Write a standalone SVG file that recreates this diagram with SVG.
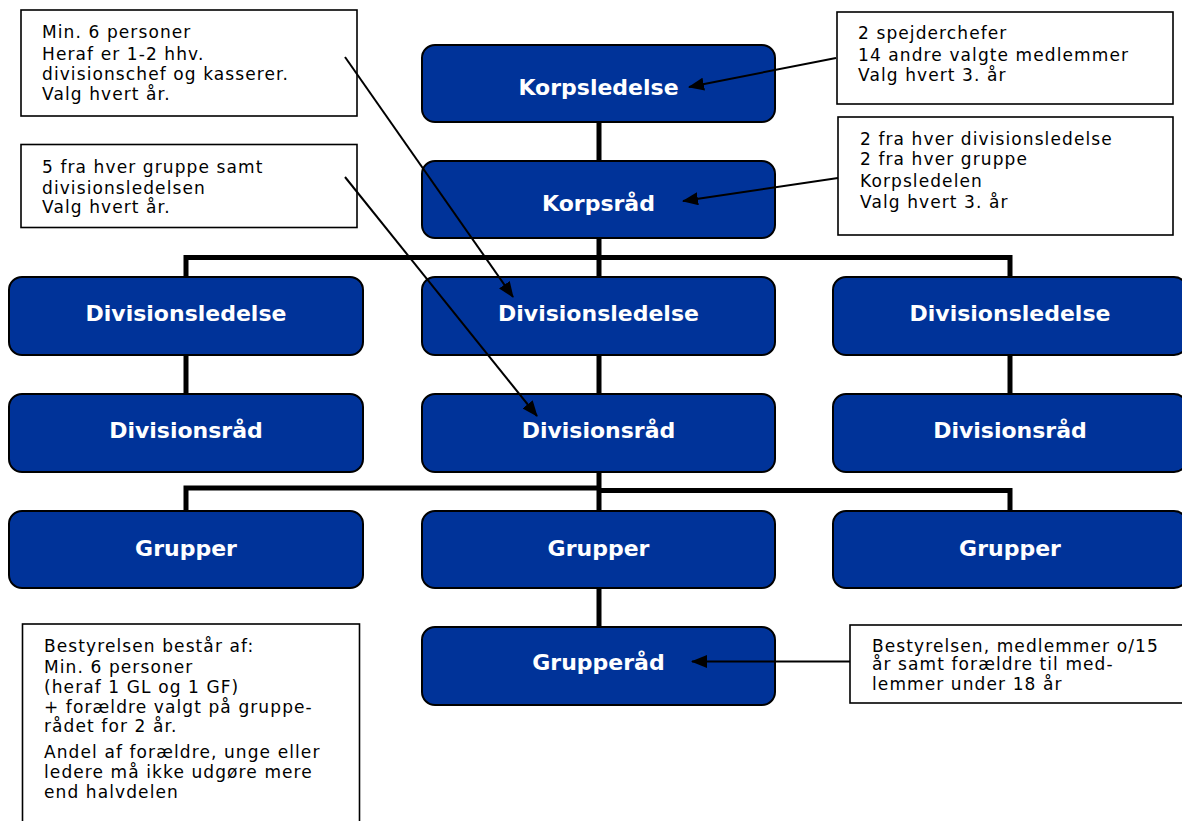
<svg xmlns="http://www.w3.org/2000/svg" width="1182" height="821" viewBox="0 0 1182 821">
<style>
.node{fill:#003399;stroke:#000;stroke-width:2}
.lbl{fill:#fff;font-family:"DejaVu Sans",sans-serif;font-weight:bold;font-size:22px;text-anchor:middle}
.note{fill:#fff;stroke:#000;stroke-width:1.6}
.nt{fill:#000;font-family:"DejaVu Sans",sans-serif;font-size:17px;letter-spacing:1.1px}
.conn{fill:none;stroke:#000;stroke-width:5}
.arr{fill:none;stroke:#000;stroke-width:2;marker-end:url(#ah)}
</style>
<defs>
<marker id="ah" markerUnits="userSpaceOnUse" markerWidth="17" markerHeight="13" refX="15" refY="6.5" orient="auto">
<path d="M0,0 L16,6.5 L0,13 Z" fill="#000"/>
</marker>
</defs>
<rect width="1182" height="821" fill="#fff"/>
<g id="connectors">
<path class="conn" d="M599 122 V627"/>
<path class="conn" d="M186 277 V257.5 H1010 V277"/>
<path class="conn" d="M186 355 V394"/>
<path class="conn" d="M1010 355 V394"/>
<path class="conn" d="M599 488 H186 V511"/>
<path class="conn" d="M599 490.5 H1010 V511"/>
</g>
<g id="korpsledelse"><rect class="node" x="422" y="45" width="353" height="77" rx="13"/><text class="lbl" x="598.5" y="95">Korpsledelse</text></g>
<g id="korpsraad"><rect class="node" x="422" y="161" width="353" height="77" rx="13"/><text class="lbl" x="598.5" y="211">Korpsråd</text></g>
<g id="divisionsledelse-1"><rect class="node" x="9" y="277" width="354" height="78" rx="13"/><text class="lbl" x="186" y="321">Divisionsledelse</text></g>
<g id="divisionsledelse-2"><rect class="node" x="422" y="277" width="353" height="78" rx="13"/><text class="lbl" x="598.5" y="321">Divisionsledelse</text></g>
<g id="divisionsledelse-3"><rect class="node" x="833" y="277" width="354" height="78" rx="13"/><text class="lbl" x="1010" y="321">Divisionsledelse</text></g>
<g id="divisionsraad-1"><rect class="node" x="9" y="394" width="354" height="78" rx="13"/><text class="lbl" x="186" y="438">Divisionsråd</text></g>
<g id="divisionsraad-2"><rect class="node" x="422" y="394" width="353" height="78" rx="13"/><text class="lbl" x="598.5" y="438">Divisionsråd</text></g>
<g id="divisionsraad-3"><rect class="node" x="833" y="394" width="354" height="78" rx="13"/><text class="lbl" x="1010" y="438">Divisionsråd</text></g>
<g id="grupper-1"><rect class="node" x="9" y="511" width="354" height="77" rx="13"/><text class="lbl" x="186" y="556">Grupper</text></g>
<g id="grupper-2"><rect class="node" x="422" y="511" width="353" height="77" rx="13"/><text class="lbl" x="598.5" y="556">Grupper</text></g>
<g id="grupper-3"><rect class="node" x="833" y="511" width="354" height="77" rx="13"/><text class="lbl" x="1010" y="556">Grupper</text></g>
<g id="grupperaad"><rect class="node" x="422" y="627" width="353" height="78" rx="13"/><text class="lbl" x="598.5" y="670">Grupperåd</text></g>
<g id="note-divisionsledelse"><rect class="note" x="21" y="10" width="336" height="106"/>
<text class="nt"><tspan x="42" y="38">Min. 6 personer</tspan><tspan x="42" y="60">Heraf er 1-2 hhv.</tspan><tspan x="42" y="80">divisionschef og kasserer.</tspan><tspan x="42" y="99.5">Valg hvert år.</tspan></text></g>
<g id="note-divisionsraad"><rect class="note" x="21" y="144.5" width="336" height="83"/>
<text class="nt"><tspan x="42" y="173">5 fra hver gruppe samt</tspan><tspan x="42" y="194">divisionsledelsen</tspan><tspan x="42" y="213">Valg hvert år.</tspan></text></g>
<g id="note-korpsledelse"><rect class="note" x="837" y="12" width="336" height="92"/>
<text class="nt"><tspan x="858" y="39">2 spejderchefer</tspan><tspan x="858" y="61">14 andre valgte medlemmer</tspan><tspan x="858" y="81">Valg hvert 3. år</tspan></text></g>
<g id="note-korpsraad"><rect class="note" x="838" y="117" width="335" height="118"/>
<text class="nt"><tspan x="860" y="145">2 fra hver divisionsledelse</tspan><tspan x="860" y="165">2 fra hver gruppe</tspan><tspan x="860" y="187">Korpsledelen</tspan><tspan x="860" y="208">Valg hvert 3. år</tspan></text></g>
<g id="note-bestyrelse"><rect class="note" x="22.5" y="624" width="337" height="210"/>
<text class="nt"><tspan x="44" y="652">Bestyrelsen består af:</tspan><tspan x="44" y="673">Min. 6 personer</tspan><tspan x="44" y="693">(heraf 1 GL og 1 GF)</tspan><tspan x="44" y="713">+ forældre valgt på gruppe-</tspan><tspan x="44" y="732">rådet for 2 år.</tspan><tspan x="44" y="758">Andel af forældre, unge eller</tspan><tspan x="44" y="778">ledere må ikke udgøre mere</tspan><tspan x="44" y="798">end halvdelen</tspan></text></g>
<g id="note-grupperaad"><rect class="note" x="850" y="625" width="345" height="78"/>
<text class="nt"><tspan x="872" y="652">Bestyrelsen, medlemmer o/15</tspan><tspan x="872" y="670">år samt forældre til med-</tspan><tspan x="872" y="690">lemmer under 18 år</tspan></text></g>
<g id="arrows">
<path class="arr" d="M836 58 L689 87"/>
<path class="arr" d="M838 178 L683 201"/>
<path class="arr" d="M345 57 L513 297"/>
<path class="arr" d="M345 177 L537 416"/>
<path class="arr" d="M850 661.5 L692 661.5"/>
</g>
</svg>
